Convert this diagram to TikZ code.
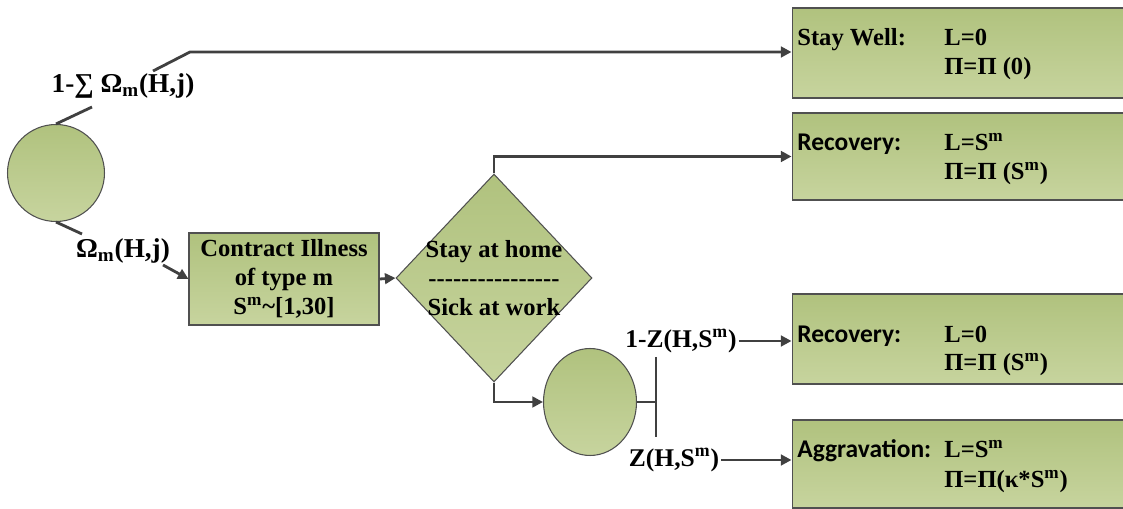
\documentclass[tikz,border=0pt]{standalone}
\usepackage{fontspec}
\setmainfont{Liberation Serif}
\newfontfamily\calfont{Carlito}
\usetikzlibrary{arrows.meta,shapes.geometric}
\definecolor{boxtop}{RGB}{176,194,126}
\definecolor{boxbot}{RGB}{199,212,158}
\definecolor{linegray}{RGB}{64,64,64}
\definecolor{edgegray}{RGB}{80,80,80}
\newcommand\hy{-\kern0pt}

\begin{document}
\begin{tikzpicture}[x=0.02cm, y=-0.02cm, >={Triangle[length=6pt,width=6pt]},
    stage/.style={draw=edgegray, line width=0.6pt, top color=boxtop, bottom color=boxbot, inner sep=0pt},
    outbox/.style={stage, rectangle, minimum width=6.76cm, minimum height=1.8cm},
    conn/.style={linegray, line width=1.6pt},
    txt/.style={font=\fontsize{14}{16.5}\selectfont\bfseries, inner sep=0pt},
    cal/.style={font=\fontsize{14.5}{17}\selectfont\calfont\bfseries, inner sep=0pt},
    prob/.style={font=\fontsize{15.5}{18}\selectfont\bfseries, inner sep=1pt}]
    \useasboundingbox (0,0) rectangle (1123,509);

    \node[stage, circle, minimum size=1.94cm] (start) at (56,173) {};
    \node[prob] (pwell) at (123,86) {1-∑ Ω\textsubscript{m}(H,j)};
    \node[prob] (pill) at (123,251) {Ω\textsubscript{m}(H,j)};
    \node[stage, txt, minimum width=3.8cm, minimum height=1.84cm, align=center] (ill) at (284,279)
        {Contract Illness\\of type m\\S\textsuperscript{m}\textasciitilde[1,30]};
    \node[stage, diamond, minimum width=3.92cm, minimum height=4.16cm] (choice) at (494,278) {};
    \node[txt, align=center] (choice-t) at (choice)
        {Stay at home\\\hy\hy\hy\hy\hy\hy\hy\hy\hy\hy\hy\hy\hy\hy\hy\hy\\Sick at work};
    \node[stage, ellipse, minimum width=1.86cm, minimum height=2.14cm] (split) at (590,402) {};

    \node[outbox] (well) at (961,53) {};
    \node[outbox, minimum height=1.74cm] (rec1) at (961,156.5) {};
    \node[outbox] (rec2) at (961,339) {};
    \node[outbox, minimum height=1.76cm] (agg) at (961,464) {};

    \node[txt, anchor=base west] (well-n) at (797,46) {Stay Well:};
    \node[txt, anchor=base west] (well-l) at (944,46) {L=0};
    \node[txt, anchor=base west] (well-p) at (944,75) {Π=Π (0)};
    \node[cal, anchor=base west] (rec1-n) at (797,151) {Recovery:};
    \node[txt, anchor=base west] (rec1-l) at (944,151) {L=S\textsuperscript{m}};
    \node[txt, anchor=base west] (rec1-p) at (944,180) {Π=Π (S\textsuperscript{m})};
    \node[cal, anchor=base west] (rec2-n) at (797,343) {Recovery:};
    \node[txt, anchor=base west] (rec2-l) at (944,343) {L=0};
    \node[txt, anchor=base west] (rec2-p) at (944,371) {Π=Π (S\textsuperscript{m})};
    \node[cal, anchor=base west] (agg-n) at (797,458) {Aggravation:};
    \node[txt, anchor=base west] (agg-l) at (944,458) {L=S\textsuperscript{m}};
    \node[txt, anchor=base west] (agg-p) at (944,488) {Π=Π(κ*S\textsuperscript{m})};

    \node[prob, font=\fontsize{14.5}{17}\selectfont\bfseries] (pz1) at (681,341) {1-Z(H,S\textsuperscript{m})};
    \node[prob, font=\fontsize{14.5}{17}\selectfont\bfseries] (pz2) at (674,460) {Z(H,S\textsuperscript{m})};

    \coordinate (pw-in) at (92,107);
    \coordinate (pw-out) at (153,71);
    \coordinate (bend) at (190,52);
    \coordinate (pi-in) at (82,234);
    \coordinate (pi-out) at (163,265);
    \coordinate (fork) at (656,402);
    \coordinate (fork-up) at (656,357);
    \coordinate (fork-dn) at (656,437);

    \draw[conn] (start.north) -- (pw-in);
    \draw[conn, ->] (pw-out) -- (bend) -- (bend -| well.west);
    \draw[conn] (start.south) -- (pi-in);
    \draw[conn, ->] (pi-out) -- (ill.west);
    \draw[conn, ->] (ill.east) -- (choice.west);
    \draw[conn, ->] (choice.north) |- (rec1.west);
    \draw[conn, ->] (choice.south) |- (split.west);
    \draw[conn] (split.east) -- (fork);
    \draw[conn] (fork-up) -- (fork-dn);
    \draw[conn, ->] (pz1.east) -- (pz1.east -| rec2.west);
    \draw[conn, ->] (pz2.east) -- (pz2.east -| agg.west);
\end{tikzpicture}
\end{document}
